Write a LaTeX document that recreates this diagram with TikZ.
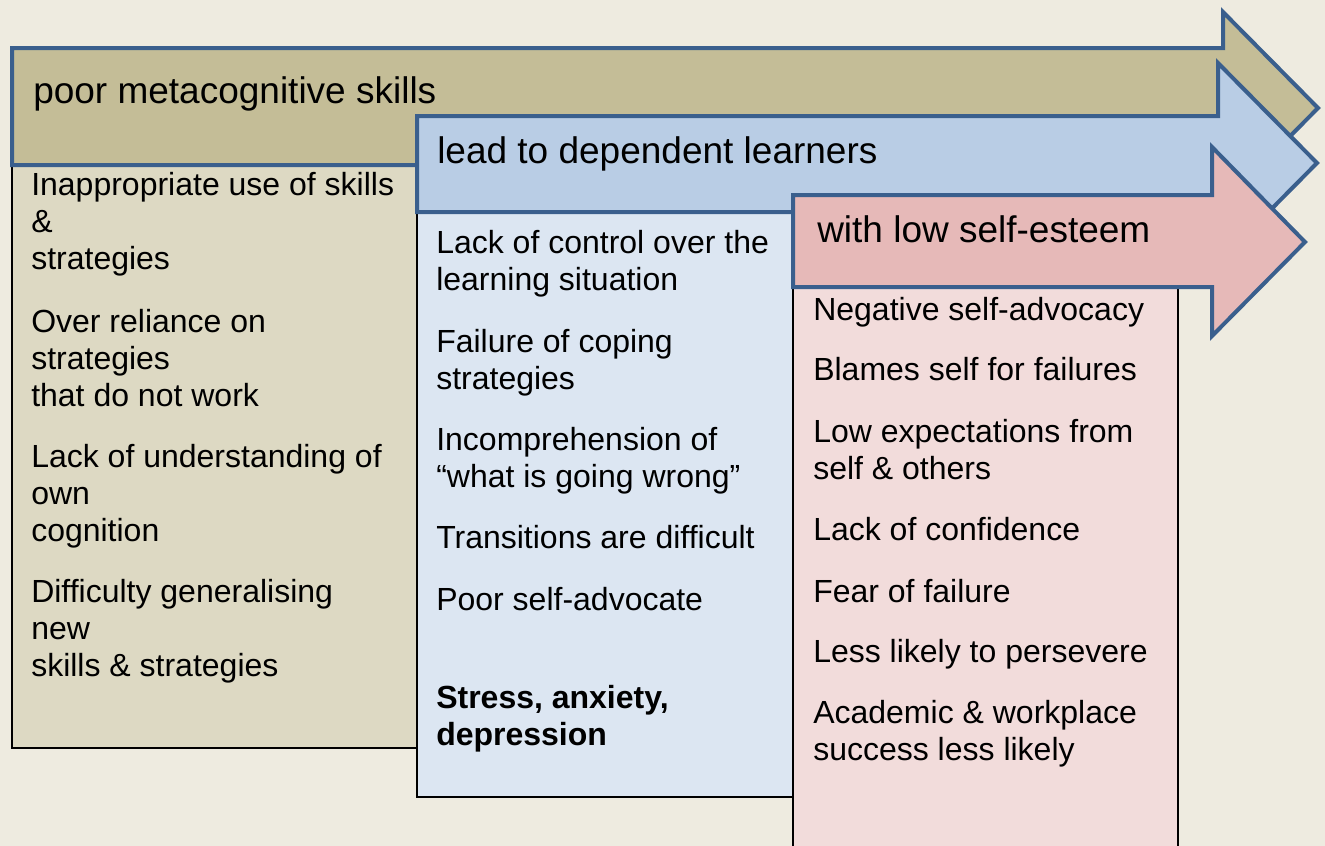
\documentclass[tikz,border=0pt]{standalone}
\usepackage{fontspec}
\setmainfont{Liberation Sans}
\usepackage{tikz}

\definecolor{bgcream}{HTML}{EEEBE0}
\definecolor{edgeblue}{HTML}{3A5F8D}
\definecolor{tanarrow}{HTML}{C4BD97}
\definecolor{tanbox}{HTML}{DDD9C3}
\definecolor{bluearrow}{HTML}{B9CDE5}
\definecolor{bluebox}{HTML}{DCE6F2}
\definecolor{pinkarrow}{HTML}{E6B9B8}
\definecolor{pinkbox}{HTML}{F2DCDB}

% lines of one entry, hung from the baseline of the first line
\newcommand{\itemlines}[1]{\begin{tabular}[t]{@{}l@{}}#1\end{tabular}}

\begin{document}
\begin{tikzpicture}[x=0.75pt,y=0.75pt,yscale=-1,xscale=1,
  bigarrow/.style={draw=edgeblue,line width=3pt,line join=miter},
  listbox/.style={draw=black,line width=1.5pt},
  heading/.style={anchor=base west,inner sep=0pt,font=\fontsize{27.75}{33}\selectfont},
  item/.style={anchor=base west,inner sep=0pt,font=\fontsize{24}{27.8}\selectfont}]
\useasboundingbox (0,0) rectangle (1325,846);
\clip (0,0) rectangle (1325,846);
\fill[bgcream] (0,0) rectangle (1325,846);

%Shape: Rectangle (first list)
\draw[listbox,fill=tanbox] (12,165) rectangle (418,748);
%Shape: Right Arrow (first)
\draw[bigarrow,fill=tanarrow] (12,48) -- (1223,48) -- (1223,12) -- (1318,108) -- (1223,204) -- (1223,165) -- (12,165) -- cycle;

%Shape: Rectangle (second list)
\draw[listbox,fill=bluebox] (417,212) rectangle (793,797);
%Shape: Right Arrow (second)
\draw[bigarrow,fill=bluearrow] (417,116) -- (1218,116) -- (1218,63) -- (1317,163) -- (1218,263) -- (1218,212) -- (417,212) -- cycle;

%Shape: Rectangle (third list)
\draw[listbox,fill=pinkbox] (793,287) rectangle (1178,860);
%Shape: Right Arrow (third)
\draw[bigarrow,fill=pinkarrow] (793,195) -- (1212,195) -- (1212,147) -- (1305,242) -- (1212,336) -- (1212,287) -- (793,287) -- cycle;

% Text Node
\draw (33,103) node (ta) [heading] {poor metacognitive skills};
% Text Node
\draw (437,163) node (tb) [heading] {lead to dependent learners};
% Text Node
\draw (817,242) node (tc) [heading] {with low self-esteem};

% Text Node
\draw (31,195) node (a1) [item] {\itemlines{Inappropriate use of skills\\\&\\strategies}};
% Text Node
\draw (31,332) node (a2) [item] {\itemlines{Over reliance on\\strategies\\that do not work}};
% Text Node
\draw (31,467) node (a3) [item] {\itemlines{Lack of understanding of\\own\\cognition}};
% Text Node
\draw (31,602) node (a4) [item] {\itemlines{Difficulty generalising\\new\\skills \& strategies}};

% Text Node
\draw (436,253) node (b1) [item] {\itemlines{Lack of control over the\\learning situation}};
% Text Node
\draw (436,352) node (b2) [item] {\itemlines{Failure of coping\\strategies}};
% Text Node
\draw (436,450) node (b3) [item] {\itemlines{Incomprehension of\\“what is going wrong”}};
% Text Node
\draw (436,548) node (b4) [item] {Transitions are difficult};
% Text Node
\draw (436,610) node (b5) [item] {Poor self-advocate};
% Text Node
\draw (436,708) node (b6) [item,font=\fontsize{24}{27.8}\selectfont\bfseries] {\itemlines{Stress, anxiety,\\depression}};

% Text Node
\draw (813,320) node (c1) [item] {Negative self-advocacy};
% Text Node
\draw (813,380) node (c2) [item] {Blames self for failures};
% Text Node
\draw (813,442) node (c3) [item] {\itemlines{Low expectations from\\self \& others}};
% Text Node
\draw (813,540) node (c4) [item] {Lack of confidence};
% Text Node
\draw (813,602) node (c5) [item] {Fear of failure};
% Text Node
\draw (813,662) node (c6) [item] {Less likely to persevere};
% Text Node
\draw (813,723) node (c7) [item] {\itemlines{Academic \& workplace\\success less likely}};

\end{tikzpicture}
\end{document}
